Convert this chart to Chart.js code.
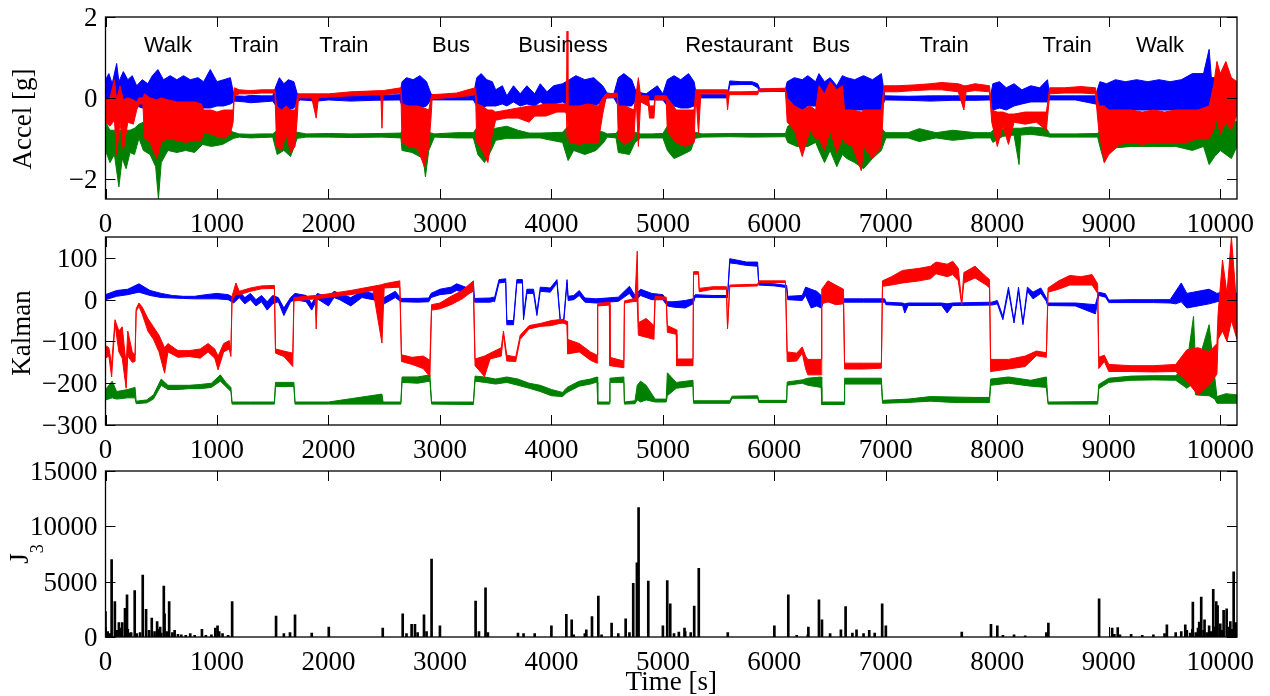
<!DOCTYPE html>
<html>
<head>
<meta charset="utf-8">
<script src="https://cdn.jsdelivr.net/npm/chart.js@4.4.0/dist/chart.umd.min.js"></script>
<style>
body { margin: 0; background: #fff; }
#wrap { position: relative; width: 1270px; height: 696px; }
canvas { position: absolute; left: 0; top: 0; }
</style>
</head>
<body>
<div id="wrap">
<canvas id="accel" width="1270" height="696"></canvas>
<canvas id="kalman" width="1270" height="696"></canvas>
<canvas id="j3" width="1270" height="696"></canvas>
</div>
<script>
// tick values
var xTicks = [0, 1000, 2000, 3000, 4000, 5000, 6000, 7000, 8000, 9000, 10000];
var accelTicks = [-2, 0, 2];
var kalmanTicks = [-300, -200, -100, 0, 100];
var j3Ticks = [0, 5000, 10000, 15000];

// activity labels over the top panel
var activityNames = ['Walk', 'Train', 'Train', 'Bus', 'Business', 'Restaurant', 'Bus', 'Train', 'Train', 'Walk'];
var activityTimes = [560, 1332, 2139, 3099, 4104, 5683, 6508, 7522, 8626, 9460];

// accel traces as [time, upper edge, lower edge]
var accelBlue = [
  [0,0.45,-0.2],[30,0.6,-0.25],[60,0.35,-0.2],[100,0.85,-0.3],[120,0.4,-0.25],[160,0.65,-0.2],[200,0.45,-0.3],[240,0.55,-0.25],[280,0.3,-0.2],[330,0.45,-0.25],[380,0.35,-0.2],[420,0.55,-0.3],[470,0.7,-0.3],[520,0.45,-0.3],[580,0.55,-0.3],[640,0.45,-0.3],[700,0.55,-0.3],[760,0.45,-0.3],[830,0.5,-0.3],[880,0.4,-0.25],[940,0.7,-0.25],[1000,0.4,-0.2],[1060,0.45,-0.2],[1120,0.5,-0.15],[1150,0.1,-0.1],
  [1160,0.05,-0.08],[1250,0.04,-0.1],[1300,0.06,-0.12],[1400,0.05,-0.1],[1500,0.05,-0.08],
  [1530,0.3,-0.2],[1560,0.5,-0.3],[1600,0.35,-0.3],[1640,0.45,-0.3],[1690,0.4,-0.25],[1720,0.1,-0.1],
  [1750,0.08,-0.05],[1900,0.06,-0.08],[2000,0.05,-0.05],[2200,0.07,-0.08],[2400,0.06,-0.06],[2640,0.08,-0.05],
  [2660,0.4,-0.2],[2700,0.5,-0.2],[2760,0.45,-0.25],[2820,0.55,-0.25],[2880,0.4,-0.2],[2920,0.1,-0.05],
  [2950,0.05,-0.05],[3100,0.05,-0.05],[3300,0.06,-0.05],
  [3330,0.5,-0.2],[3370,0.6,-0.25],[3420,0.45,-0.2],[3470,0.4,-0.2],
  [3500,0.2,-0.2],[3560,0.3,-0.15],[3600,0.05,-0.2],[3660,0.3,-0.1],[3720,0.1,-0.2],[3780,0.3,-0.15],[3850,0.1,-0.2],[3900,0.35,-0.1],[3960,0.15,-0.2],[4020,0.3,-0.15],[4100,0.35,-0.1],
  [4160,0.45,-0.2],[4220,0.55,-0.25],[4300,0.45,-0.25],[4380,0.5,-0.2],[4460,0.3,-0.1],
  [4500,0.12,0.0],[4560,0.1,0.0],
  [4600,0.5,-0.2],[4650,0.6,-0.2],[4720,0.45,-0.2],
  [4760,0.15,-0.05],[4850,0.1,-0.05],[4950,0.3,-0.05],[5000,0.1,-0.05],
  [5040,0.45,-0.2],[5100,0.55,-0.2],[5160,0.45,-0.25],[5230,0.6,-0.25],[5280,0.4,-0.2],
  [5300,0.08,0.0],[5450,0.08,0.0],[5580,0.08,0.0],
  [5600,0.42,0.32],[5700,0.4,0.33],[5800,0.4,0.33],[5850,0.35,0.25],
  [5870,0.22,0.15],[6000,0.22,0.16],[6100,0.22,0.16],
  [6115,0.4,-0.2],[6180,0.5,-0.25],[6250,0.45,-0.3],[6300,0.55,-0.2],[6370,0.4,-0.2],
  [6400,0.6,-0.3],[6450,0.4,-0.2],[6500,0.5,-0.3],[6560,0.3,-0.2],[6610,0.55,-0.3],
  [6650,0.5,-0.3],[6720,0.45,-0.3],[6800,0.55,-0.3],[6880,0.45,-0.3],[6960,0.6,-0.3],
  [6990,0.05,-0.05],[7200,0.04,-0.06],[7400,0.05,-0.08],[7600,0.05,-0.06],[7800,0.05,-0.06],[7940,0.05,-0.05],
  [7960,0.35,-0.3],[8020,0.4,-0.25],[8080,0.25,-0.3],[8150,0.35,-0.2],[8220,0.2,-0.15],[8300,0.3,-0.1],[8380,0.25,-0.1],[8450,0.45,-0.1],
  [8470,0.05,-0.05],[8700,0.05,-0.05],[8880,0.05,-0.15],
  [8920,0.4,-0.25],[8980,0.35,-0.3],[9060,0.45,-0.3],[9150,0.4,-0.3],[9250,0.45,-0.3],[9350,0.4,-0.3],[9450,0.45,-0.3],[9550,0.4,-0.3],[9650,0.45,-0.3],[9750,0.6,-0.3],[9850,0.6,-0.3],[9900,1.2,-0.35],[9920,0.5,-0.3],[10000,0.5,-0.3],[10080,0.45,-0.2],[10150,0.4,-0.2]
];
var accelGreen = [
  [0,-0.6,-1.3],[40,-0.8,-1.6],[80,-0.8,-1.4],[120,-0.8,-2.2],[150,-0.8,-1.5],[185,-0.8,-1.75],[220,-0.8,-1.35],[260,-0.75,-1.4],[300,-0.65,-1.0],[340,-0.6,-1.3],[400,-0.8,-1.4],[450,-0.8,-1.7],[475,-0.8,-2.5],[500,-0.8,-1.6],[560,-0.8,-1.3],[640,-0.8,-1.35],[720,-0.8,-1.3],[800,-0.8,-1.35],[870,-0.7,-1.15],[950,-0.7,-1.2],[1050,-0.75,-1.15],[1150,-0.85,-1.0],
  [1200,-0.89,-0.97],[1300,-0.9,-0.99],[1400,-0.89,-0.98],[1500,-0.89,-0.97],
  [1540,-0.8,-1.4],[1600,-0.8,-1.3],[1660,-0.8,-1.45],[1720,-0.85,-1.0],
  [1800,-0.89,-0.97],[2000,-0.88,-0.97],[2200,-0.89,-0.98],[2480,-0.88,-0.97],[2650,-0.87,-0.99],
  [2660,-0.8,-1.3],[2750,-0.8,-1.35],[2850,-0.8,-1.5],[2870,-0.8,-1.95],[2900,-0.85,-1.3],
  [2950,-0.89,-0.97],[3150,-0.86,-0.99],[3300,-0.86,-0.99],
  [3340,-0.7,-1.4],[3400,-0.75,-1.6],[3460,-0.8,-1.3],
  [3500,-0.75,-1.05],[3600,-0.7,-1.0],[3700,-0.8,-1.0],[3800,-0.87,-0.99],[3900,-0.87,-0.99],[4000,-0.86,-1.05],[4100,-0.85,-1.1],
  [4150,-0.7,-1.55],[4200,-0.8,-1.3],[4300,-0.8,-1.4],[4400,-0.8,-1.3],[4470,-0.85,-1.1],
  [4500,-0.89,-0.97],[4580,-0.88,-0.99],
  [4600,-0.8,-1.35],[4700,-0.8,-1.4],[4750,-0.85,-1.1],
  [4800,-0.89,-0.99],[4900,-0.89,-0.99],[5000,-0.88,-0.99],
  [5040,-0.7,-1.3],[5100,-0.75,-1.5],[5180,-0.8,-1.4],[5250,-0.8,-1.3],[5290,-0.85,-1.0],
  [5350,-0.89,-0.97],[5600,-0.88,-0.96],[5800,-0.88,-0.97],[6100,-0.88,-0.96],
  [6120,-0.7,-1.1],[6200,-0.6,-1.2],[6300,-0.7,-1.2],[6370,-0.8,-1.1],
  [6400,-0.5,-1.3],[6450,-0.6,-1.6],[6500,-0.5,-1.3],[6560,-0.6,-1.7],[6610,-0.6,-1.4],
  [6650,-0.7,-1.5],[6720,-0.7,-1.6],[6800,-0.7,-1.75],[6880,-0.7,-1.5],[6960,-0.75,-1.3],
  [7000,-0.86,-0.99],[7200,-0.86,-0.99],[7300,-0.76,-1.08],[7450,-0.86,-0.99],[7600,-0.8,-1.05],[7800,-0.86,-0.99],[7940,-0.86,-0.99],
  [7960,-0.8,-1.1],[8050,-0.78,-0.95],[8150,-0.75,-0.92],[8195,-0.75,-1.65],[8210,-0.75,-0.92],[8300,-0.72,-0.9],[8440,-0.75,-0.95],
  [8470,-0.89,-0.97],[8700,-0.89,-0.97],[8900,-0.88,-0.97],
  [8920,-0.8,-1.2],[8960,-0.8,-1.6],[9000,-0.8,-1.25],[9200,-0.8,-1.2],[9400,-0.8,-1.2],[9600,-0.8,-1.2],[9750,-0.6,-1.3],[9850,-0.5,-1.2],[9900,-0.4,-1.65],
  [9950,-0.3,-1.45],[10000,-0.4,-1.3],[10050,-0.5,-1.4],[10100,-0.5,-1.5],[10150,-0.6,-1.2]
];
var accelRed = [
  [0,-0.05,-0.6],[40,0.0,-0.7],[80,0.45,-0.55],[100,-0.05,-1.4],[130,0.3,-0.6],[160,-0.05,-1.3],[200,0.0,-0.6],[250,-0.05,-0.65],[280,-0.1,-0.3],[300,0.0,-0.15],[335,0.0,-0.15],[350,0.1,-1.0],[400,0.0,-1.1],[460,-0.05,-1.5],[500,0.0,-1.1],[560,-0.05,-1.0],[640,-0.1,-1.05],[720,-0.1,-1.1],[800,-0.1,-1.05],[860,-0.15,-1.05],[880,-0.3,-0.85],[950,-0.3,-0.9],[1000,-0.35,-0.95],[1060,-0.3,-1.0],[1120,-0.3,-0.9],[1145,-0.3,-0.6],
  [1155,0.25,0.05],[1200,0.2,0.1],[1300,0.18,0.1],[1400,0.2,0.12],[1520,0.2,0.12],
  [1535,-0.2,-1.2],[1580,-0.3,-1.3],[1620,-0.2,-0.9],[1660,-0.3,-1.35],[1700,-0.3,-1.2],[1720,0.0,-0.5],
  [1730,0.1,0.0],[1850,0.1,0.0],[1890,0.1,-0.5],[1910,0.1,0.0],[2000,0.1,0.02],[2200,0.15,0.05],[2470,0.18,0.08],[2480,0.18,-0.75],[2490,0.18,0.08],[2650,0.25,0.12],
  [2660,-0.15,-1.1],[2720,-0.2,-1.2],[2800,-0.2,-1.25],[2860,-0.25,-1.7],[2900,-0.3,-1.2],[2920,0.0,-0.5],
  [2930,0.08,-0.02],[3050,0.1,0.0],[3150,0.12,0.02],[3250,0.2,0.05],[3320,0.25,0.08],
  [3330,-0.15,-1.1],[3380,-0.2,-1.3],[3430,-0.3,-1.6],[3470,-0.3,-0.9],
  [3500,-0.35,-0.55],[3600,-0.3,-0.5],[3700,-0.25,-0.5],[3800,-0.2,-0.6],[3850,-0.2,-0.45],[3950,-0.15,-0.45],[4050,-0.15,-0.35],[4120,-0.15,-0.35],
  [4135,-0.15,-0.4],[4140,1.65,-1.0],[4148,-0.15,-0.5],
  [4160,-0.2,-1.1],[4250,-0.2,-1.15],[4330,-0.15,-1.1],[4420,-0.2,-1.1],[4460,0.0,-0.4],
  [4490,0.1,0.0],[4590,0.12,0.02],
  [4600,-0.2,-1.0],[4660,-0.2,-1.15],[4740,-0.3,-1.0],
  [4760,0.1,0.0],[4780,0.5,-1.2],[4800,0.05,-0.1],[4870,0.05,-0.2],[4880,-0.2,-0.5],[4920,-0.2,-0.5],[4930,0.05,-0.05],[5030,0.05,-0.05],
  [5040,0.0,-0.85],[5120,-0.3,-1.1],[5200,-0.3,-1.2],[5280,-0.3,-1.1],
  [5295,0.2,0.1],[5320,0.2,-0.9],[5340,0.2,0.1],[5450,0.2,0.1],[5570,0.2,0.1],[5580,0.2,-0.3],[5595,0.15,0.08],[5700,0.15,0.08],[5850,0.16,0.08],[5860,0.22,0.16],[6100,0.24,0.17],
  [6115,0.0,-0.6],[6180,-0.2,-0.8],[6250,-0.3,-1.45],[6320,-0.2,-0.8],[6370,-0.3,-1.0],
  [6400,0.3,-1.0],[6450,0.1,-1.3],[6500,0.4,-0.8],[6560,0.2,-1.35],[6610,0.3,-1.0],
  [6630,-0.3,-1.1],[6700,-0.3,-1.2],[6780,-0.35,-1.8],[6800,-0.3,-1.2],[6880,-0.3,-1.5],[6960,-0.3,-1.2],
  [6985,0.3,0.15],[7100,0.3,0.15],[7250,0.32,0.18],[7400,0.35,0.2],[7500,0.38,0.2],[7650,0.35,0.15],[7700,0.3,-0.3],[7720,0.3,0.15],[7800,0.35,0.18],[7930,0.3,0.15],
  [7950,-0.3,-0.6],[8000,-0.35,-1.2],[8050,-0.35,-0.7],[8100,-0.4,-1.15],[8150,-0.4,-0.6],[8250,-0.35,-0.65],[8350,-0.35,-0.6],[8440,-0.35,-0.8],
  [8470,0.25,0.1],[8600,0.25,0.12],[8750,0.28,0.12],[8880,0.25,0.1],
  [8910,-0.2,-0.8],[8960,-0.2,-1.6],[9000,-0.3,-1.4],[9100,-0.3,-1.15],[9200,-0.3,-1.1],[9300,-0.35,-1.15],[9400,-0.3,-1.1],[9500,-0.35,-1.1],[9600,-0.3,-1.1],[9700,-0.3,-1.1],[9800,-0.3,-1.0],[9900,-0.2,-1.0],
  [9940,0.3,-0.8],[9970,0.9,-0.5],[10000,0.6,-0.9],[10050,0.9,-0.6],[10100,0.5,-0.8],[10150,0.4,-0.4]
];

// Kalman traces, [time, upper edge, lower edge]
var kalBlue = [
  [0,12,0],[100,22,8],[200,25,12],[300,38,18],[400,22,10],[500,15,5],[600,10,4],[700,8,3],[800,8,2],[900,12,2],[1000,15,2],[1100,12,0],[1150,5,-8],[1200,20,5],[1250,5,-10],[1300,15,0],[1350,0,-15],[1400,10,-5],[1450,-5,-25],[1500,10,-10],[1550,5,-5],[1600,-20,-38],[1660,5,-5],[1700,15,0],[1800,10,-5],[1850,-10,-25],[1900,15,2],[2000,5,-15],[2050,20,5],[2100,15,0],[2200,5,-15],[2300,20,5],[2400,15,0],[2500,5,-10],[2600,20,5],[2650,3,-5],[2800,3,-6],[2900,4,-5],
  [2920,15,5],[3000,25,12],[3100,30,15],[3150,38,22],[3250,28,15],[3300,42,20],[3310,3,-6],[3450,4,-6],[3480,6,-4],
  [3490,5,-5],[3530,48,40],[3590,50,42],[3600,-50,-60],[3660,-50,-60],[3690,48,40],[3740,48,40],[3750,-40,-48],[3780,25,15],[3840,25,15],[3870,-30,-38],[3900,30,20],[3990,28,18],[4050,48,40],[4080,-48,-56],[4110,-48,-56],[4140,48,40],
  [4150,8,-2],[4200,10,0],[4250,22,10],[4300,4,-6],[4400,2,-8],[4500,4,-6],[4600,6,-4],[4700,32,15],[4750,10,-4],[4800,25,10],[4900,15,0],[5000,12,0],
  [5040,-5,-15],[5100,-5,-18],[5200,-2,-20],[5270,2,-10],[5290,12,6],[5450,10,5],[5580,10,5],[5600,98,88],[5660,95,86],[5750,90,82],[5850,90,80],[5860,40,35],[6000,38,33],[6110,34,29],
  [6120,8,0],[6250,10,-2],[6280,30,10],[6330,25,-20],[6380,20,-15],[6420,10,-20],[6440,3,-5],[6600,2,-6],[6800,2,-6],[6990,2,-6],
  [7000,-6,-12],[7150,-8,-14],[7170,-10,-32],[7200,-8,-14],[7500,-8,-14],[7550,-10,-32],[7600,-8,-14],[7950,-6,-13],
  [8000,-2,-10],[8050,-40,-48],[8100,30,20],[8150,-50,-56],[8190,30,20],[8230,-55,-60],[8270,30,20],[8320,18,2],[8390,28,15],[8440,4,-4],
  [8450,-8,-14],[8700,-8,-15],[8880,-12,-34],[8910,18,10],[8970,14,6],[9000,-1,-7],[9200,0,-7],[9400,0,-7],[9550,0,-8],[9600,20,-10],[9650,40,-5],[9700,15,-20],[9800,20,-15],[9900,25,-10],[9970,15,-5],[10050,20,0],[10150,15,0]
];
var kalGreen = [
  [0,-215,-240],[60,-195,-235],[100,-220,-238],[200,-215,-235],[265,-210,-235],[275,-243,-249],[370,-240,-247],[430,-228,-238],[500,-190,-205],[560,-205,-215],[650,-205,-215],[750,-205,-213],[850,-203,-213],[950,-200,-210],[1030,-180,-195],[1080,-198,-208],[1125,-210,-220],
  [1135,-245,-250],[1300,-245,-250],[1515,-245,-250],[1525,-198,-208],[1690,-198,-208],[1700,-245,-250],[2000,-245,-250],[2480,-226,-250],[2490,-245,-250],[2650,-245,-250],
  [2660,-185,-198],[2800,-185,-200],[2910,-180,-195],[2925,-245,-250],[3300,-245,-251],
  [3315,-183,-195],[3400,-185,-198],[3500,-190,-202],[3600,-185,-198],[3700,-190,-205],[3800,-200,-212],[3900,-205,-220],[4000,-215,-230],[4100,-222,-232],[4140,-210,-222],[4250,-195,-207],[4350,-190,-202],[4410,-185,-197],
  [4415,-245,-250],[4520,-245,-250],[4525,-188,-198],[4650,-185,-198],[4655,-245,-250],[4750,-242,-249],[4770,-205,-240],[4800,-195,-245],[4850,-205,-240],[4930,-238,-245],[5030,-238,-245],
  [5040,-175,-230],[5120,-198,-212],[5270,-193,-207],[5275,-242,-248],[5600,-242,-248],[5620,-231,-236],[5850,-230,-236],[5860,-241,-246],[6110,-241,-246],
  [6115,-197,-205],[6250,-192,-200],[6300,-188,-205],[6420,-185,-210],[6425,-245,-251],[6625,-245,-251],[6630,-188,-202],[6960,-188,-202],
  [6970,-241,-248],[7200,-238,-246],[7400,-232,-243],[7600,-233,-246],[7800,-234,-246],[7930,-234,-246],
  [7940,-190,-205],[8100,-185,-200],[8300,-193,-207],[8440,-185,-210],[8455,-245,-250],[8900,-244,-250],
  [8910,-203,-213],[9000,-188,-198],[9200,-183,-193],[9400,-182,-192],[9600,-182,-193],[9700,-155,-212],[9760,-40,-200],[9780,-170,-228],[9900,-60,-230],[9950,-185,-238],[9970,-232,-248],[10050,-225,-248],[10150,-228,-248]
];
var kalRed = [
  [0,-110,-140],[30,-115,-135],[55,-155,-185],[85,-48,-58],[120,-75,-125],[150,-65,-140],[185,-155,-212],[200,-75,-135],[240,-125,-150],[265,-132,-148],[275,-22,-28],[300,-8,-16],[330,-18,-35],[380,-45,-75],[430,-65,-95],[480,-85,-125],[530,-115,-176],[560,-105,-125],[650,-122,-138],[750,-122,-136],[850,-118,-140],[920,-105,-125],[980,-118,-140],[1010,-135,-168],[1060,-105,-125],[1110,-98,-118],[1125,-122,-136],
  [1135,8,0],[1170,40,12],[1200,20,12],[1300,28,20],[1400,33,26],[1515,34,27],[1525,-118,-128],[1600,-123,-136],[1680,-128,-160],[1690,5,-3],[1800,8,0],[1880,10,2],[1890,10,-70],[1900,10,2],[2000,14,6],[2200,22,12],[2400,32,22],[2480,36,-104],[2500,38,28],[2640,45,30],
  [2655,-132,-148],[2750,-138,-155],[2850,-135,-165],[2910,-145,-184],[2925,-12,-25],[3000,-8,-22],[3100,8,-12],[3200,22,2],[3300,45,22],
  [3315,-142,-158],[3400,-135,-184],[3450,-128,-142],[3550,-115,-135],[3570,-75,-85],[3600,-133,-147],[3680,-137,-148],[3720,-85,-95],[3800,-62,-70],[3900,-57,-64],[4000,-50,-62],[4100,-47,-55],[4140,-52,-60],
  [4145,-95,-130],[4250,-105,-125],[4350,-125,-145],[4410,-133,-152],[4415,-9,-15],[4520,-6,-13],[4525,-138,-158],[4650,-147,-163],[4655,-3,-8],[4750,3,-4],[4770,116,-5],[4780,-55,-85],[4850,-45,-90],[4920,-62,-95],[4930,8,0],[5030,6,0],
  [5040,-62,-78],[5120,-72,-83],[5125,-142,-158],[5270,-142,-158],[5275,67,61],[5320,67,61],[5325,27,19],[5450,31,25],[5570,31,25],[5580,-64,-70],[5600,35,31],[5850,37,33],[5860,45,41],[6100,45,41],
  [6115,-125,-148],[6200,-128,-147],[6250,-113,-128],[6280,-135,-165],[6300,-143,-180],[6420,-143,-180],[6425,25,-10],[6480,45,-5],[6550,35,-12],[6620,25,-10],[6630,-152,-166],[6800,-152,-166],[6960,-152,-164],
  [6970,45,32],[7050,55,35],[7150,70,40],[7300,75,45],[7400,80,50],[7450,90,62],[7550,85,55],[7600,92,60],[7650,75,45],[7680,-6,-12],[7700,65,40],[7800,80,52],[7900,55,35],[7930,48,28],
  [7940,-143,-172],[8100,-143,-166],[8250,-135,-160],[8350,-123,-134],[8440,-127,-138],[8455,28,18],[8550,45,25],[8650,58,35],[8750,55,35],[8850,60,35],[8900,38,15],
  [8910,-138,-165],[8960,-133,-148],[9000,-155,-172],[9200,-158,-172],[9400,-158,-173],[9600,-155,-172],[9700,-120,-195],[9800,-115,-228],[9900,-125,-205],[9970,-105,-178],[9980,-35,-95],[10020,95,-75],[10060,15,-100],[10100,150,-50],[10150,-25,-95]
];

// J3 peaks [time, value] and the low floor between them
var j3Peaks = [
  [0,2300],[55,7000],[84,3200],[120,1300],[150,1300],[175,2600],[193,3800],[230,400],[262,4200],[334,5600],[364,2500],[390,600],[415,1700],[463,1400],[490,900],[523,4600],[530,2100],[571,3200],[620,600],[760,300],[865,700],[985,800],[1005,1000],[1136,3200],
  [1530,1900],[1600,300],[1655,400],[1700,2000],[1850,350],[2003,900],[2487,800],[2666,2100],[2746,1150],[2776,1150],[2857,2000],[2925,7050],[3000,1000],[3320,3250],[3409,4450],
  [3700,350],[3750,300],[3850,300],[4000,1000],[4134,2050],[4182,1550],[4313,650],[4364,1850],[4421,3700],[4540,1250],[4666,1650],[4734,4850],[4767,6700],[4782,11700],[4869,5050],
  [5000,1000],[5039,5100],[5066,3000],[5143,450],[5194,800],[5281,2800],[5322,6200],[5582,400],[6000,1000],[6125,3800],[6305,900],[6400,3350],[6427,1550],[6597,650],[6639,2750],[6737,650],[6851,600],[6967,3000],[7000,1000],
  [7681,450],[7943,1150],[8000,1000],[8440,400],[8458,1250],[8913,3450],[9030,800],[9080,850],[9521,1100],[9686,1100],[9754,3150],[9811,1350],[9829,3600],[9859,1550],[9937,4300],[9964,3200],[9976,2850],[10030,2400],[10057,2550],[10090,1400],[10120,5900]
];
var j3Floor = [
  [20,500],[40,300],[100,600],[140,800],[200,700],[215,350],[280,300],[310,400],[440,500],[480,700],[500,350],[550,500],[600,400],[650,250],[680,200],[720,150],[800,150],[900,150],[950,200],[1020,500],[1050,300],[1100,150],
  [2700,300],[2800,400],[2880,500],[3350,500],[3430,400],[4200,200],[4300,300],[4450,200],[4600,300],[4700,400],[5100,300],[5200,500],[5250,400],
  [6200,150],[6300,200],[6500,300],[6700,350],[6800,300],[6900,350],[8050,150],[8150,200],[8250,100],
  [9050,250],[9100,200],[9200,250],[9300,150],[9400,200],[9500,300],[9600,400],[9650,500],[9700,600],[9730,350],[9750,700],[9780,400],[9800,800],[9850,600],[9880,400],[9900,1000],[9920,500],[9950,900],[10000,1200],[10015,600],[10080,900],[10105,700],[10140,1300]
];

var SERIF = '"Liberation Serif", "Times New Roman", serif';
var SANS = '"Liberation Sans", Arial, sans-serif';
var BLUE = '#0000ff', GREEN = '#008000', RED = '#ff0000';

function minus(v) {
  return String(v).replace('-', '\u2212');
}

// one trace = lower edge line + upper edge line filled down to it
function band(rows, color) {
  var lo = rows.map(function(r) { return {x: r[0], y: r[2]}; });
  var hi = rows.map(function(r) { return {x: r[0], y: r[1]}; });
  return [
    {data: lo, borderColor: color, borderWidth: 1, fill: false},
    {data: hi, borderColor: color, backgroundColor: color, borderWidth: 1, fill: '-1'}
  ];
}

function frame(yTicks, extra) {
  return {
    id: 'frame',
    afterDraw: function(chart) {
      var ctx = chart.ctx, a = chart.chartArea;
      var xs = chart.scales.x, ys = chart.scales.y;
      ctx.save();
      ctx.strokeStyle = '#000';
      ctx.lineWidth = 1;
      ctx.beginPath();
      xTicks.forEach(function(v) {
        var px = Math.round(xs.getPixelForValue(v)) + 0.5;
        ctx.moveTo(px, a.bottom); ctx.lineTo(px, a.bottom - 10);
        ctx.moveTo(px, a.top); ctx.lineTo(px, a.top + 10);
      });
      yTicks.forEach(function(v) {
        var py = Math.round(ys.getPixelForValue(v)) + 0.5;
        ctx.moveTo(a.left, py); ctx.lineTo(a.left + 10, py);
        ctx.moveTo(a.right, py); ctx.lineTo(a.right - 10, py);
      });
      ctx.stroke();
      ctx.lineWidth = 1.3;
      ctx.strokeRect(a.left, a.top, a.right - a.left, a.bottom - a.top);

      ctx.fillStyle = '#000';
      ctx.font = '27px ' + SERIF;
      ctx.textBaseline = 'alphabetic';
      ctx.textAlign = 'center';
      xTicks.forEach(function(v) {
        ctx.fillText(String(v), xs.getPixelForValue(v), a.bottom + 33);
      });
      ctx.textAlign = 'right';
      yTicks.forEach(function(v) {
        ctx.fillText(minus(v), a.left - 8, ys.getPixelForValue(v) + 9);
      });
      if (extra) extra(ctx, a, xs, ys);
      ctx.restore();
    }
  };
}

function yTitle(ctx, text, x, y) {
  ctx.save();
  ctx.translate(x, y);
  ctx.rotate(-Math.PI / 2);
  ctx.textAlign = 'center';
  ctx.font = '27px ' + SERIF;
  ctx.fillText(text, 0, 0);
  ctx.restore();
}

function options(top, bottom, yMin, yMax) {
  return {
    responsive: false,
    animation: false,
    events: [],
    layout: {padding: {left: 105.5, right: 33, top: top, bottom: 696 - bottom}},
    plugins: {legend: {display: false}, tooltip: {enabled: false}},
    elements: {point: {radius: 0}, line: {tension: 0}},
    scales: {
      x: {type: 'linear', display: false, min: 0, max: 10150, offset: false},
      y: {type: 'linear', display: false, min: yMin, max: yMax}
    }
  };
}

new Chart(document.getElementById('accel'), {
  type: 'line',
  data: {datasets: band(accelRed, RED).concat(band(accelGreen, GREEN), band(accelBlue, BLUE))},
  options: options(17, 199, -2.5, 2),
  plugins: [frame(accelTicks, function(ctx, a, xs, ys) {
    yTitle(ctx, 'Accel [g]', 31, 119);
    ctx.font = '22px ' + SANS;
    ctx.textAlign = 'center';
    activityNames.forEach(function(name, i) {
      ctx.fillText(name, xs.getPixelForValue(activityTimes[i]), ys.getPixelForValue(1.14));
    });
  })]
});

new Chart(document.getElementById('kalman'), {
  type: 'line',
  data: {datasets: band(kalRed, RED).concat(band(kalGreen, GREEN), band(kalBlue, BLUE))},
  options: options(237, 425, -300, 150),
  plugins: [frame(kalmanTicks, function(ctx) {
    yTitle(ctx, 'Kalman', 30, 333);
  })]
});

new Chart(document.getElementById('j3'), {
  type: 'bar',
  data: {datasets: [{
    data: j3Peaks.concat(j3Floor).map(function(p) { return {x: p[0], y: p[1]}; }),
    backgroundColor: '#000',
    barThickness: 2
  }]},
  options: options(471, 637, 0, 15000),
  plugins: [frame(j3Ticks, function(ctx, a) {
    ctx.save();
    ctx.translate(28, 554);
    ctx.rotate(-Math.PI / 2);
    ctx.font = '27px ' + SERIF;
    var wJ = ctx.measureText('J').width;
    ctx.font = '18px ' + SERIF;
    var w3 = ctx.measureText('3').width;
    ctx.textAlign = 'left';
    ctx.font = '27px ' + SERIF;
    ctx.fillText('J', -(wJ + w3) / 2, 0);
    ctx.font = '18px ' + SERIF;
    ctx.fillText('3', -(wJ + w3) / 2 + wJ, 15);
    ctx.restore();
    ctx.font = '27px ' + SERIF;
    ctx.textAlign = 'center';
    ctx.fillText('Time [s]', (a.left + a.right) / 2, 690);
  })]
});
</script>
</body>
</html>
